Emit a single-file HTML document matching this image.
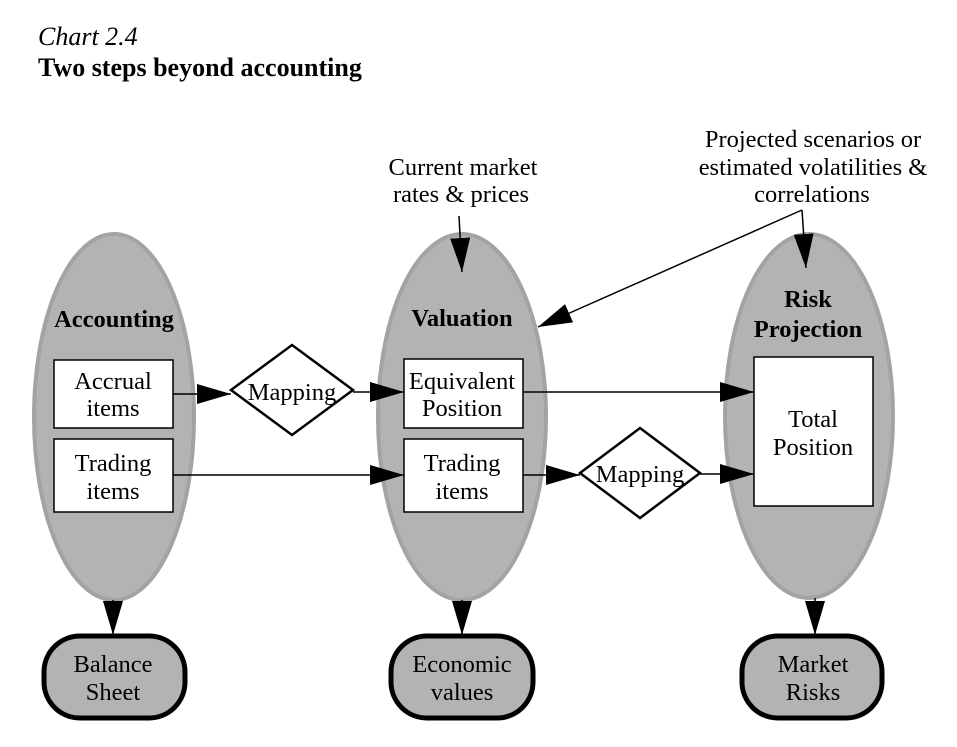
<!DOCTYPE html>
<html><head><meta charset="utf-8"><style>
html,body{margin:0;padding:0;background:#fff}
svg{display:block}
text{font-family:"Liberation Serif",serif;font-size:24.5px;fill:#000}
</style></head><body>
<svg width="957" height="747" viewBox="0 0 957 747" xmlns="http://www.w3.org/2000/svg">
<defs>
<marker id="a" markerWidth="34" markerHeight="20" refX="34" refY="10" orient="auto" markerUnits="userSpaceOnUse">
<path d="M0,0 L34,10 L0,20 z" fill="#000"/></marker>
</defs>
<text x="38" y="45" font-style="italic" style="font-size:26px">Chart 2.4</text>
<text x="38" y="76" font-weight="bold" style="font-size:26px">Two steps beyond accounting</text>

<g fill="#b3b3b3" stroke="#a3a3a3" stroke-width="4">
<ellipse cx="114" cy="417" rx="80" ry="183"/>
<ellipse cx="462" cy="417" rx="84" ry="183"/>
<ellipse cx="809" cy="416" rx="84" ry="182"/>
</g>
<text x="114" y="327" text-anchor="middle" font-weight="bold">Accounting</text>
<text x="462" y="326" text-anchor="middle" font-weight="bold">Valuation</text>
<text x="808" y="307" text-anchor="middle" font-weight="bold">Risk</text>
<text x="808" y="337" text-anchor="middle" font-weight="bold">Projection</text>

<g fill="#fff" stroke="#000" stroke-width="1.5">
<rect x="54" y="360" width="119" height="68"/>
<rect x="54" y="439" width="119" height="73"/>
<rect x="404" y="359" width="119" height="69"/>
<rect x="404" y="439" width="119" height="73"/>
<rect x="754" y="357" width="119" height="149"/>
</g>
<g fill="#fff" stroke="#000" stroke-width="2.5">
<path d="M292,345 L353,390 L292,435 L231,390 z"/>
<path d="M640,428 L700,473 L640,518 L580,473 z"/>
</g>
<g text-anchor="middle">
<text x="113" y="389">Accrual</text><text x="113" y="416">items</text>
<text x="113" y="471">Trading</text><text x="113" y="499">items</text>
<text x="462" y="389">Equivalent</text><text x="462" y="416">Position</text>
<text x="462" y="471">Trading</text><text x="462" y="499">items</text>
<text x="813" y="427">Total</text><text x="813" y="455">Position</text>
<text x="292" y="400">Mapping</text>
<text x="640" y="482">Mapping</text>
</g>

<g stroke="#000" stroke-width="1.5" fill="none" marker-end="url(#a)">
<line x1="173" y1="394" x2="231" y2="394"/>
<line x1="353" y1="392" x2="404" y2="392"/>
<line x1="523" y1="392" x2="754" y2="392"/>
<line x1="173" y1="475" x2="404" y2="475"/>
<line x1="523" y1="475" x2="580" y2="475"/>
<line x1="700" y1="474" x2="754" y2="474"/>
<line x1="113" y1="600" x2="113" y2="635"/>
<line x1="462" y1="600" x2="462" y2="635"/>
<line x1="815" y1="598" x2="815" y2="635"/>
<line x1="459" y1="216" x2="462" y2="272"/>
<line x1="802" y1="210" x2="806" y2="268"/>
<line x1="802" y1="210" x2="538" y2="327"/>
</g>

<g fill="#b3b3b3" stroke="#000" stroke-width="5">
<rect x="44" y="636" width="141" height="82" rx="36"/>
<rect x="391" y="636" width="142" height="82" rx="36"/>
<rect x="742" y="636" width="140" height="82" rx="36"/>
</g>
<g text-anchor="middle">
<text x="113" y="672">Balance</text><text x="113" y="700">Sheet</text>
<text x="462" y="672">Economic</text><text x="462" y="700">values</text>
<text x="813" y="672">Market</text><text x="813" y="700">Risks</text>
<text x="463" y="175">Current market</text><text x="461" y="202">rates &amp; prices</text>
<text x="813" y="147">Projected scenarios or</text>
<text x="813" y="175">estimated volatilities &amp;</text>
<text x="812" y="202">correlations</text>
</g>
</svg>
</body></html>
